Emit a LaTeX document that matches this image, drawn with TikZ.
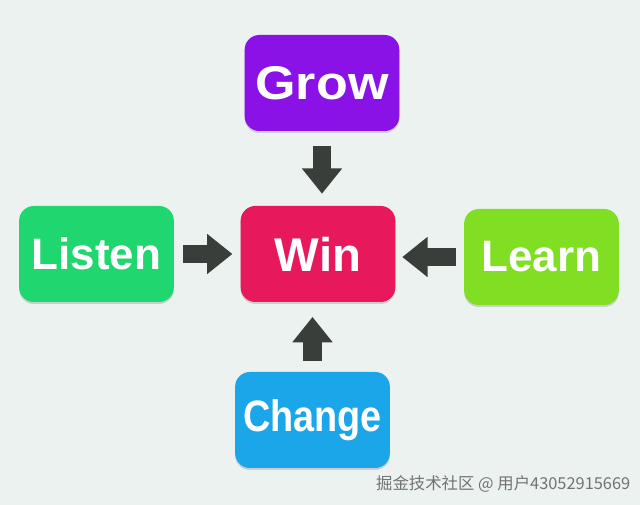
\documentclass[tikz,border=0pt]{standalone}
\usepackage{graphicx}
\usepackage{fontspec}
\setmainfont{Liberation Sans}
\newfontfamily\cjkfont{Noto Sans CJK SC}
\usetikzlibrary{arrows.meta,shadows}
\definecolor{hintergrund}{HTML}{EBF2EF}
\definecolor{lila}{HTML}{8A12E6}
\definecolor{rot}{HTML}{E8185C}
\definecolor{gruen}{HTML}{20D66E}
\definecolor{hellgruen}{HTML}{80DF22}
\definecolor{blau}{HTML}{1BA6EA}
\definecolor{pfeilgrau}{HTML}{393E3B}
\tikzset{
  karte/.style={rounded corners=11pt,minimum width=116pt,minimum height=72pt,
    inner sep=0pt,text=white,font=\bfseries\fontsize{33}{33}\selectfont,
    drop shadow={shadow xshift=0pt,shadow yshift=-1.5pt,opacity=0.3}},
  gross/.style={font=\bfseries\fontsize{35.5}{35.5}\selectfont},
  pfeil/.style={draw=pfeilgrau,line width=14pt,
    -{Triangle[width=29pt,length=19pt]}}
}
\begin{document}
\begin{tikzpicture}[x=0.75pt,y=-0.75pt]
% Hintergrund (Bildgroesse 640 x 505)
\fill[hintergrund] (0,0) rectangle (640,505);
% Karten
\node[karte,gross,fill=lila] (grow)   at (322,83)    {\scalebox{1.1}[1]{Grow}};
\node[karte,gross,fill=rot]  (win)    at (318,254)   {Win};
\node[karte,fill=gruen]      (listen) at (96.5,254)  {Listen};
\node[karte,fill=hellgruen]  (learn)  at (541.5,257) {Learn};
\node[karte,fill=blau]       (change) at (312.5,420) {\scalebox{0.86}[1]{Change}};
% Pfeile zur Mitte
\draw[pfeil,shorten <=11pt,shorten >=9pt]
        (grow.south) -- (grow.south |- win.north);
\draw[pfeil,shorten <=7pt,shorten >=6pt]
        (listen.east) -- (listen.east -| win.west);
\draw[pfeil,shorten <=6pt,shorten >=5pt]
        (learn.west) -- (learn.west -| win.east);
\draw[pfeil,shorten <=8pt,shorten >=11pt]
        (change.north) -- (change.north |- win.south);
% Wasserzeichen
\node[anchor=east,text=black!55,font=\cjkfont\fontsize{12.3}{13}\selectfont]
        (marke) at (635,484) {掘金技术社区 @ 用户43052915669};
\end{tikzpicture}
\end{document}
